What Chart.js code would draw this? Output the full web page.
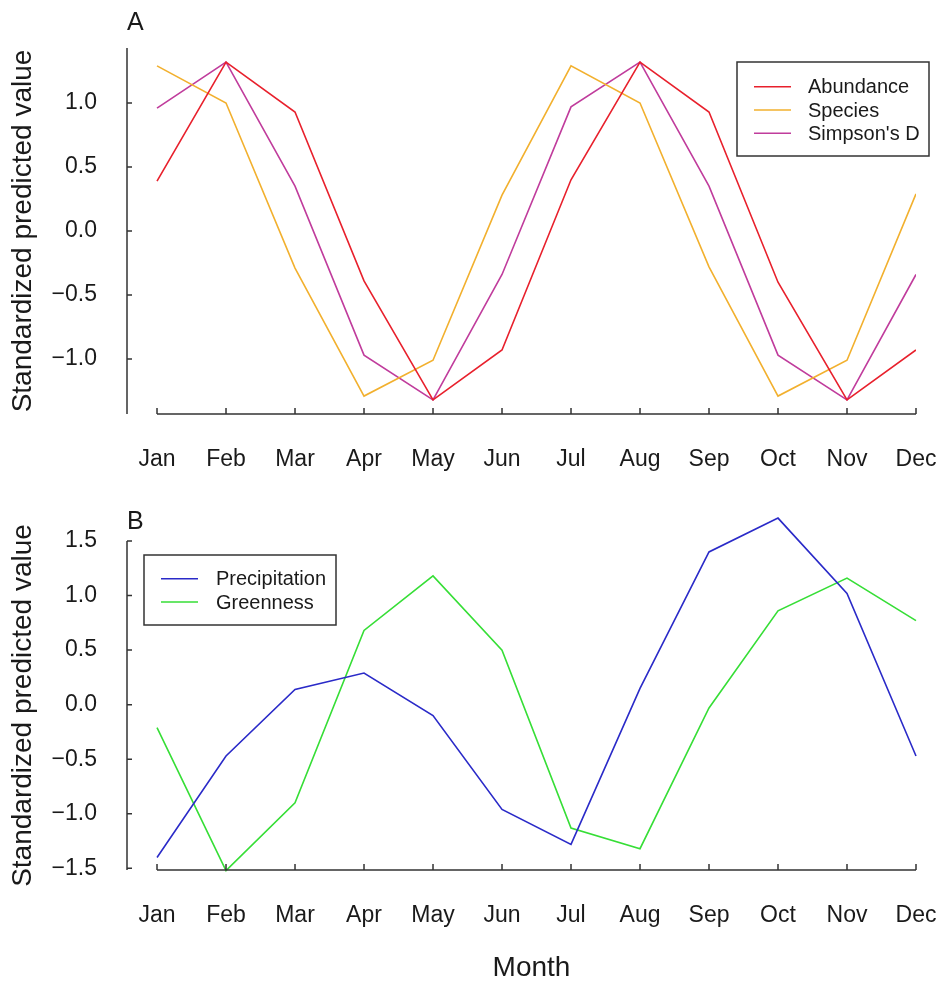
<!DOCTYPE html>
<html>
<head>
<meta charset="utf-8">
<title>Standardized predicted value by month</title>
<script src="https://cdn.jsdelivr.net/npm/chart.js@4.4.1/dist/chart.umd.min.js"></script>
<style>
  html, body { margin: 0; padding: 0; background: #fff; overflow: hidden; }
  .panel { position: absolute; left: 0; }
  #panelA { top: 0; }
  #panelB { top: 480px; }
</style>
</head>
<body>
<div class="panel" id="panelA"><canvas id="chartA" width="943" height="480"></canvas></div>
<div class="panel" id="panelB"><canvas id="chartB" width="943" height="502"></canvas></div>
<script>
// Values
const months = ["Jan", "Feb", "Mar", "Apr", "May", "Jun", "Jul", "Aug", "Sep", "Oct", "Nov", "Dec"];

// Panel A
const abundance = [0.39, 1.32, 0.93, -0.39, -1.32, -0.93, 0.40, 1.32, 0.93, -0.40, -1.32, -0.93];
const species = [1.29, 1.00, -0.29, -1.29, -1.01, 0.28, 1.29, 1.00, -0.28, -1.29, -1.01, 0.29];
const simpsonsD = [0.96, 1.32, 0.35, -0.97, -1.32, -0.34, 0.97, 1.32, 0.35, -0.97, -1.32, -0.34];
const yTicksA = [-1.0, -0.5, 0.0, 0.5, 1.0];

// Panel B
const precipitation = [-1.40, -0.47, 0.14, 0.29, -0.10, -0.96, -1.28, 0.15, 1.40, 1.71, 1.02, -0.47];
const greenness = [-0.21, -1.52, -0.90, 0.68, 1.18, 0.50, -1.13, -1.32, -0.03, 0.86, 1.16, 0.77];
const yTicksB = [-1.5, -1.0, -0.5, 0.0, 0.5, 1.0, 1.5];

const FONT = "'Liberation Sans', Arial, Helvetica, sans-serif";
const INK = "#1a1a1a";

function toPoints(values) {
    return values.map((v, i) => ({ x: i, y: v }));
}

function fmt(v) {
    const s = Math.abs(v).toFixed(1);
    return v < 0 ? "\u2212" + s : s;
}

// R-style axes: y line along the plot, x line only from Jan to Dec, inward ticks,
// plus the panel letter, a boxed legend and (panel B) the "Month" label
const rAxesPlugin = {
    id: "rAxes",
    afterDraw(chart, args, opts) {
        const ctx = chart.ctx;
        const area = chart.chartArea;
        const xs = chart.scales.x;
        const ys = chart.scales.y;
        ctx.save();
        ctx.strokeStyle = "#333";
        ctx.lineWidth = 1.5;
        ctx.beginPath();
        ctx.moveTo(area.left, area.top);
        ctx.lineTo(area.left, area.bottom);
        ctx.moveTo(xs.getPixelForValue(0), area.bottom);
        ctx.lineTo(xs.getPixelForValue(months.length - 1), area.bottom);
        xs.ticks.forEach(t => {
            const px = xs.getPixelForValue(t.value);
            ctx.moveTo(px, area.bottom);
            ctx.lineTo(px, area.bottom - 6);
        });
        ys.ticks.forEach(t => {
            const py = ys.getPixelForValue(t.value);
            ctx.moveTo(area.left, py);
            ctx.lineTo(area.left + 5, py);
        });
        ctx.stroke();

        // panel letter
        ctx.fillStyle = INK;
        ctx.font = "25px " + FONT;
        ctx.textBaseline = "alphabetic";
        ctx.textAlign = "left";
        ctx.fillText(opts.letter, area.left, opts.letterY);

        // x axis title, centred on the whole plot region as in the figure
        if (opts.xTitle) {
            ctx.font = "28px " + FONT;
            ctx.textAlign = "center";
            ctx.textBaseline = "middle";
            ctx.fillText(opts.xTitle, (area.left + area.right) / 2 + 10, opts.xTitleY);
            ctx.textAlign = "left";
        }

        // legend
        const lg = opts.legend;
        ctx.lineWidth = 1.5;
        ctx.strokeStyle = "#333";
        ctx.strokeRect(lg.x, lg.y, lg.w, lg.h);
        ctx.font = "20px " + FONT;
        ctx.textBaseline = "middle";
        chart.data.datasets.forEach((ds, i) => {
            const ry = lg.firstRow + i * lg.rowGap;
            ctx.strokeStyle = ds.borderColor;
            ctx.lineWidth = ds.borderWidth;
            ctx.beginPath();
            ctx.moveTo(lg.lineX0, ry);
            ctx.lineTo(lg.lineX1, ry);
            ctx.stroke();
            ctx.fillStyle = INK;
            ctx.fillText(ds.label, lg.textX, ry + 1);
        });
        ctx.restore();
    }
};

function makeChart(canvasId, datasets, cfg) {
    return new Chart(document.getElementById(canvasId).getContext("2d"), {
        type: "line",
        data: { datasets: datasets },
        options: {
            responsive: false,
            animation: false,
            events: [],
            layout: { padding: { left: 0, right: 27, top: cfg.top, bottom: 0 } },
            elements: {
                point: { radius: 0 },
                line: { tension: 0, borderWidth: 1.6 }
            },
            plugins: {
                legend: { display: false },
                tooltip: { enabled: false },
                rAxes: {
                    letter: cfg.letter, letterY: cfg.letterY, legend: cfg.legend,
                    xTitle: cfg.xTitle, xTitleY: cfg.xTitleY
                }
            },
            scales: {
                x: {
                    type: "linear",
                    min: -0.435,
                    max: months.length - 1,
                    grid: { display: false, drawTicks: false },
                    border: { display: false },
                    afterBuildTicks: scale => {
                        scale.ticks = months.map((m, i) => ({ value: i }));
                    },
                    afterFit: scale => {
                        scale.height = cfg.xHeight;
                        scale.paddingLeft = 0;
                        scale.paddingRight = 0;
                    },
                    ticks: {
                        padding: 32,
                        autoSkip: false,
                        maxRotation: 0,
                        color: INK,
                        font: { family: FONT, size: 23 },
                        callback: v => months[v]
                    }
                },
                y: {
                    min: cfg.yMin,
                    max: cfg.yMax,
                    grid: { display: false, drawTicks: false },
                    border: { display: false },
                    afterBuildTicks: scale => {
                        scale.ticks = cfg.yTicks.map(v => ({ value: v }));
                    },
                    afterFit: scale => {
                        scale.width = 127;
                        scale.paddingTop = 0;
                        scale.paddingBottom = 0;
                    },
                    ticks: {
                        padding: 30,
                        color: INK,
                        font: { family: FONT, size: 23 },
                        callback: v => fmt(v)
                    },
                    title: {
                        display: true,
                        text: "Standardized predicted value",
                        color: INK,
                        padding: { top: 9, bottom: 0 },
                        font: { family: FONT, size: 28, lineHeight: 1 }
                    }
                }
            }
        },
        plugins: [rAxesPlugin]
    });
}

makeChart("chartA", [
    { label: "Abundance", data: toPoints(abundance), borderColor: "#e8202c", borderWidth: 1.6 },
    { label: "Species", data: toPoints(species), borderColor: "#f2b02e", borderWidth: 1.6 },
    { label: "Simpson's D", data: toPoints(simpsonsD), borderColor: "#c03c9c", borderWidth: 1.6 }
], {
    top: 48, xHeight: 66, yMin: -1.43, yMax: 1.43, yTicks: yTicksA,
    letter: "A", letterY: 30, xTitle: null,
    legend: { x: 737, y: 62, w: 192, h: 94, lineX0: 754, lineX1: 791, firstRow: 86.7, rowGap: 23.3, textX: 808 }
});

makeChart("chartB", [
    { label: "Precipitation", data: toPoints(precipitation), borderColor: "#2a2ac8", borderWidth: 1.6, clip: false },
    { label: "Greenness", data: toPoints(greenness), borderColor: "#36de36", borderWidth: 1.6, clip: false }
], {
    top: 61, xHeight: 112, yMin: -1.515, yMax: 1.5, yTicks: yTicksB,
    letter: "B", letterY: 49, xTitle: "Month", xTitleY: 488,
    legend: { x: 144, y: 75, w: 192, h: 70, lineX0: 161, lineX1: 198, firstRow: 98.7, rowGap: 23.3, textX: 216 }
});
</script>
</body>
</html>
